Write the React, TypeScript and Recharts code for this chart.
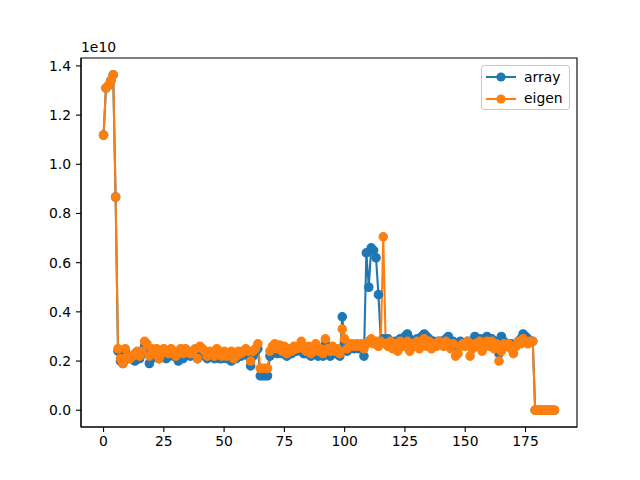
import React from "react";
import { LineChart, Line, XAxis, YAxis, Legend, ReferenceArea } from "recharts";

// values in units of 1e10
const arrayValues = [
  1.119, 1.31, 1.32, 1.34, 1.364, 0.867, 0.24, 0.2, 0.19, 0.24,
  0.21, 0.21, 0.21, 0.2, 0.22, 0.21, 0.23, 0.26, 0.25, 0.19,
  0.21, 0.22, 0.22, 0.21, 0.22, 0.23, 0.21, 0.22, 0.23, 0.22,
  0.22, 0.2, 0.23, 0.21, 0.23, 0.23, 0.22, 0.23, 0.24, 0.21,
  0.24, 0.24, 0.22, 0.21, 0.23, 0.22, 0.21, 0.24, 0.21, 0.21,
  0.22, 0.21, 0.22, 0.2, 0.21, 0.21, 0.22, 0.22, 0.23, 0.24,
  0.22, 0.18, 0.22, 0.24, 0.25, 0.14, 0.14, 0.14, 0.14, 0.22,
  0.24, 0.25, 0.23, 0.24, 0.23, 0.24, 0.22, 0.23, 0.23, 0.24,
  0.24, 0.25, 0.26, 0.23, 0.23, 0.24, 0.22, 0.23, 0.25, 0.22,
  0.24, 0.22, 0.27, 0.24, 0.22, 0.24, 0.23, 0.23, 0.22, 0.38,
  0.27, 0.24, 0.25, 0.26, 0.25, 0.26, 0.25, 0.26, 0.22, 0.64,
  0.5, 0.66, 0.65, 0.62, 0.47, 0.28, 0.29, 0.28, 0.29, 0.28,
  0.27, 0.28, 0.26, 0.29, 0.28, 0.3, 0.31, 0.29, 0.28, 0.28,
  0.29, 0.28, 0.3, 0.31, 0.3, 0.29, 0.28, 0.28, 0.27, 0.28,
  0.28, 0.28, 0.29, 0.3, 0.28, 0.28, 0.25, 0.27, 0.28, 0.27,
  0.27, 0.28, 0.27, 0.28, 0.3, 0.28, 0.29, 0.26, 0.29, 0.3,
  0.29, 0.29, 0.27, 0.28, 0.23, 0.3, 0.28, 0.27, 0.26, 0.27,
  0.26, 0.26, 0.28, 0.29, 0.31, 0.3, 0.29, 0.28, 0.28, 0,
  0, 0, 0, 0, 0, 0, 0, 0,
];

const eigenValues = [
  1.119, 1.31, 1.32, 1.34, 1.364, 0.867, 0.25, 0.21, 0.19, 0.25,
  0.22, 0.21, 0.22, 0.23, 0.24, 0.22, 0.24, 0.28, 0.27, 0.22,
  0.25, 0.23, 0.25, 0.21, 0.23, 0.25, 0.24, 0.23, 0.25, 0.24,
  0.22, 0.24, 0.25, 0.23, 0.25, 0.24, 0.23, 0.24, 0.25, 0.21,
  0.26, 0.25, 0.24, 0.22, 0.24, 0.23, 0.22, 0.25, 0.23, 0.22,
  0.24, 0.22, 0.23, 0.24, 0.21, 0.22, 0.24, 0.23, 0.24, 0.25,
  0.24, 0.2, 0.24, 0.25, 0.27, 0.17, 0.17, 0.17, 0.17, 0.24,
  0.26, 0.27, 0.25, 0.265, 0.24, 0.26, 0.23, 0.25, 0.24, 0.26,
  0.25, 0.26, 0.28, 0.25, 0.24, 0.26, 0.23, 0.25, 0.27, 0.24,
  0.25, 0.23, 0.29, 0.25, 0.24, 0.26, 0.24, 0.25, 0.23, 0.33,
  0.29, 0.25, 0.26, 0.27, 0.26, 0.27, 0.26, 0.27, 0.25, 0.27,
  0.28, 0.29, 0.27, 0.28, 0.26, 0.28, 0.705, 0.27, 0.26, 0.28,
  0.25, 0.27, 0.24, 0.28, 0.26, 0.27, 0.28, 0.24, 0.27, 0.26,
  0.28, 0.25, 0.27, 0.29, 0.26, 0.28, 0.25, 0.27, 0.26, 0.28,
  0.27, 0.26, 0.28, 0.27, 0.25, 0.27, 0.22, 0.23, 0.26, 0.27,
  0.26, 0.28, 0.22, 0.25, 0.27, 0.26, 0.28, 0.24, 0.27, 0.28,
  0.26, 0.28, 0.25, 0.27, 0.2, 0.24, 0.27, 0.26, 0.27, 0.25,
  0.23, 0.26, 0.28, 0.27, 0.29, 0.28, 0.27, 0.28, 0.28, 0,
  0, 0, 0, 0, 0, 0, 0, 0,
];

const xTicks = [0, 25, 50, 75, 100, 125, 150, 175];
const yTicks = [0, 0.2, 0.4, 0.6, 0.8, 1.0, 1.2, 1.4];

const BLUE = "#1f77b4";
const ORANGE = "#ff7f0e";
const FONT = "'DejaVu Sans', sans-serif";
const FS = 13.9;

const data = arrayValues.map((v, i) => ({ idx: i, array: v, eigen: eigenValues[i] }));

const X_DOMAIN = [-9.35, 196.35];
const Y_DOMAIN = [-0.0682, 1.4322];

const tickStyle = { fill: "#000", fontSize: FS, fontFamily: FONT };
const axisLine = { stroke: "#000", strokeWidth: 1.1 };
const tickLine = { stroke: "#000", strokeWidth: 1.1 };

function LegendBox() {
  const rows = [
    { name: "array", color: BLUE, top: 12 },
    { name: "eigen", color: ORANGE, top: 33.5 },
  ];
  return (
    <div
      style={{
        position: "relative",
        boxSizing: "border-box",
        width: 89,
        height: 45,
        border: "1px solid #c8c8c8",
        borderRadius: 3,
        background: "rgba(255,255,255,0.8)",
        fontFamily: FONT,
        fontSize: FS,
        color: "#000",
      }}
    >
      {rows.map((r) => (
        <React.Fragment key={r.name}>
          <svg width={32} height={12} style={{ position: "absolute", left: 3, top: r.top - 7 }}>
            <line x1={1} y1={6} x2={31} y2={6} stroke={r.color} strokeWidth={2.08} />
            <circle cx={16} cy={6} r={4.6} fill={r.color} />
          </svg>
          <div style={{ position: "absolute", left: 42, top: r.top - 9.5, lineHeight: "16px" }}>{r.name}</div>
        </React.Fragment>
      ))}
    </div>
  );
}

export default function App() {
  return (
    <div style={{ position: "absolute", left: 0, top: 0, width: 640, height: 480, background: "#fff" }}>
      <div
        style={{
          position: "absolute",
          left: 81,
          top: 41,
          fontFamily: FONT,
          fontSize: FS,
          lineHeight: 1,
          color: "#000",
        }}
      >
        1e10
      </div>
      <LineChart width={640} height={480} data={data} margin={{ top: 58, right: 63, bottom: 23, left: 31 }}>
        <XAxis
          dataKey="idx"
          type="number"
          domain={X_DOMAIN}
          ticks={xTicks}
          allowDataOverflow
          height={30}
          axisLine={axisLine}
          tickLine={tickLine}
          tickSize={5}
          tickMargin={4}
          tick={tickStyle}
          interval={0}
        />
        <YAxis
          type="number"
          domain={Y_DOMAIN}
          ticks={yTicks}
          allowDataOverflow
          width={50}
          axisLine={axisLine}
          tickLine={tickLine}
          tickSize={5}
          tickMargin={5}
          tick={tickStyle}
          interval={0}
          tickFormatter={(v: number) => v.toFixed(1)}
        />
        <ReferenceArea
          x1={X_DOMAIN[0]}
          x2={X_DOMAIN[1]}
          y1={Y_DOMAIN[0]}
          y2={Y_DOMAIN[1]}
          fill="none"
          fillOpacity={0}
          stroke="#000"
          strokeWidth={1.1}
          ifOverflow="visible"
        />
        <Line
          type="linear"
          dataKey="array"
          stroke={BLUE}
          strokeWidth={2.08}
          dot={{ r: 4.2, fill: BLUE, stroke: BLUE, strokeWidth: 1.2 }}
          activeDot={false}
          isAnimationActive={false}
        />
        <Line
          type="linear"
          dataKey="eigen"
          stroke={ORANGE}
          strokeWidth={2.08}
          dot={{ r: 4.2, fill: ORANGE, stroke: ORANGE, strokeWidth: 1.2 }}
          activeDot={false}
          isAnimationActive={false}
        />
        <Legend
          layout="horizontal"
          verticalAlign="middle"
          align="center"
          wrapperStyle={{ left: 481, top: 65, width: 89, height: 45 }}
          content={() => <LegendBox />}
        />
      </LineChart>
    </div>
  );
}
